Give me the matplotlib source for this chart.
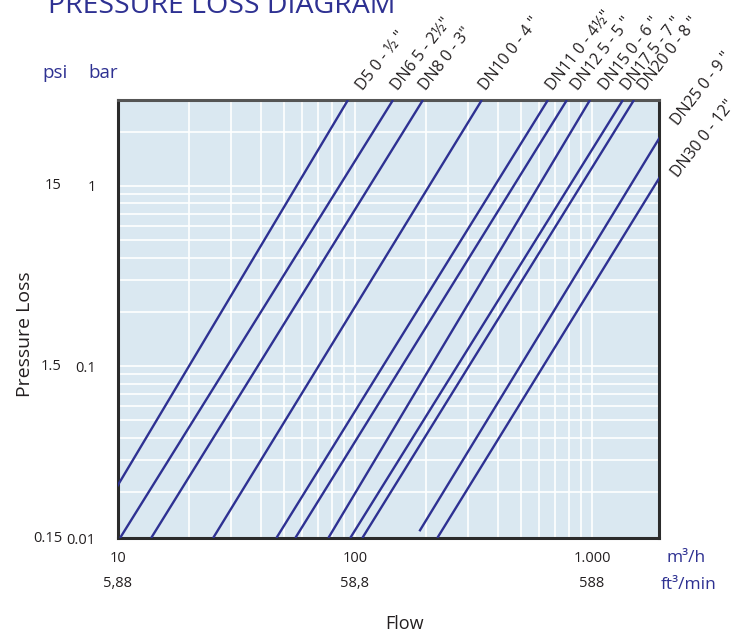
import matplotlib
matplotlib.use('Agg')
import matplotlib.pyplot as plt
from matplotlib.ticker import LogLocator, FixedLocator, NullFormatter
import matplotlib.transforms as mtransforms

plt.rcParams['font.family'] = ['Open Sans', 'DejaVu Sans']

# ---- data ----
series_names = ['D5 0 - ½ "', 'DN6 5 - 2½"', 'DN8 0 - 3"', 'DN10 0 - 4 "',
                'DN11 0 - 4½"', 'DN12 5 - 5 "', 'DN15 0 - 6 "', 'DN17 5 - 7 "',
                'DN20 0 - 8 "', 'DN25 0 - 9 "', 'DN30 0 - 12"']
# each line: low end (flow m3/h, pressure loss bar) and high end
flow_low = [7.35, 10.2, 13.8, 25.2, 46.6, 56.0, 77.2, 95.5, 107.4, 187.0, 222.5]
dp_low = [0.0111, 0.0111, 0.0111, 0.0111, 0.0111, 0.0111, 0.0111, 0.0111, 0.0111, 0.0121, 0.0111]
flow_high = [93.4, 144.7, 193.6, 343.0, 652.0, 784.0, 981.0, 1351.0, 1504.0, 2412.0, 3069.0]
dp_high = [3.0, 3.0, 3.0, 3.0, 3.0, 3.0, 3.0, 3.0, 3.0, 3.0, 3.0]

# label anchors (flow, bar)
label_flow = [105, 147.5, 193.6, 346.7, 665, 848, 1112, 1378, 1625, 2239, 2239]
label_dp = [3.41, 3.41, 3.41, 3.41, 3.41, 3.41, 3.41, 3.41, 3.41, 2.18, 1.108]

x_ticks = [10, 100, 1000]
x_tick_labels = ['10', '100', '1.000']
x_tick_labels2 = ['5,88', '58,8', '588']
y_ticks = [0.0111, 0.1, 1]
y_tick_labels_bar = ['0.01', '0.1', '1']
y_tick_labels_psi = ['0.15', '1.5', '15']
x_range = (10, 1918)
y_range = (0.0111, 3.0)

BLUE = '#2e3192'
TXT = '#231f20'

fig = plt.figure(figsize=(7.52, 6.35), dpi=100)
ax = fig.add_axes([118/752, 97/635, 541/752, 438/635])
ax.set_facecolor('#dae8f1')
ax.set_xscale('log')
ax.set_yscale('log')
ax.set_xlim(*x_range)
ax.set_ylim(*y_range)

ax.xaxis.set_major_locator(FixedLocator(x_ticks))
ax.xaxis.set_minor_locator(LogLocator(base=10, subs=[2, 3, 4, 5, 6, 7, 8, 9], numticks=20))
ax.yaxis.set_major_locator(FixedLocator(y_ticks))
ax.yaxis.set_minor_locator(LogLocator(base=10, subs=[2, 3, 4, 5, 6, 7, 8, 9], numticks=20))
ax.xaxis.set_minor_formatter(NullFormatter())
ax.yaxis.set_minor_formatter(NullFormatter())
ax.set_xticklabels(x_tick_labels)
ax.set_yticklabels(y_tick_labels_bar)
ax.tick_params(which='both', length=0)
ax.tick_params(axis='x', pad=9, labelsize=10.5, labelcolor=TXT)
ax.tick_params(axis='y', pad=16, labelsize=10.5, labelcolor=TXT)

ax.grid(which='both', color='white', linewidth=1.2)
ax.set_axisbelow(True)

for sp in ax.spines.values():
    sp.set_color('#2b2b2b')
    sp.set_linewidth(2.2)
ax.spines['top'].set_color('#555555')

label_offset = mtransforms.offset_copy(ax.transData, fig=fig, x=6, y=-3, units='dots')
for i in range(len(series_names)):
    ax.plot([flow_low[i], flow_high[i]], [dp_low[i], dp_high[i]],
            color=BLUE, linewidth=1.7, solid_capstyle='butt', zorder=3)
    ax.text(label_flow[i], label_dp[i], series_names[i], rotation=52,
            rotation_mode='anchor', ha='left', va='bottom', fontsize=11.5,
            color=TXT, clip_on=False, transform=label_offset)

# psi column
trans_y = mtransforms.blended_transform_factory(ax.transAxes, ax.transData)
for yv, lab in zip(y_ticks, y_tick_labels_psi):
    ax.text(-0.1035, yv, lab, transform=trans_y, ha='right', va='center',
            fontsize=10.5, color=TXT)

# ft3/min row
trans_x = mtransforms.blended_transform_factory(ax.transData, ax.transAxes)
for xv, lab in zip(x_ticks, x_tick_labels2):
    ax.text(xv, -0.105, lab, transform=trans_x, ha='center', va='center',
            fontsize=10.5, color=TXT)

ax.text(1.013, -0.045, 'm³/h', transform=ax.transAxes, ha='left', va='center',
        fontsize=12.5, color=BLUE)
ax.text(1.003, -0.108, 'ft³/min', transform=ax.transAxes, ha='left', va='center',
        fontsize=12.5, color=BLUE)

fig.text(405/752, 1 - 624/635, 'Flow', ha='center', va='center', fontsize=13, color=TXT)
fig.text(25/752, 1 - 334/635, 'Pressure Loss', ha='center', va='center',
         rotation=90, fontsize=14, color=TXT)

fig.text(48/752, 1 - 13/635, 'PRESSURE LOSS DIAGRAM', ha='left', va='baseline',
         fontsize=20.5, color=BLUE)
fig.text(42/752, 1 - 78/635, 'psi', ha='left', va='baseline', fontsize=13.5, color=BLUE)
fig.text(88/752, 1 - 78/635, 'bar', ha='left', va='baseline', fontsize=13.5, color=BLUE)

fig.savefig('out.png', dpi=100)
